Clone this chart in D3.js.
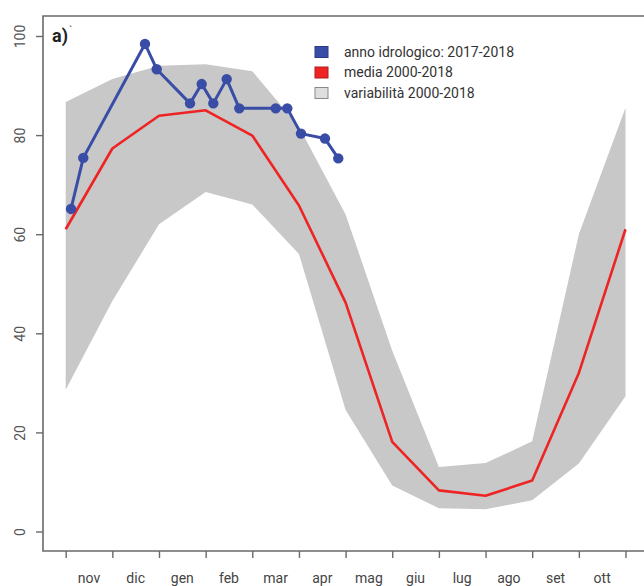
<!DOCTYPE html>
<html>
<head>
<meta charset="utf-8">
<script src="https://cdn.jsdelivr.net/npm/d3@7"></script>
<style>
  html, body { margin: 0; padding: 0; background: #fff; }
  svg { display: block; }
  text { font-family: Roboto, "Open Sans", sans-serif; }
</style>
</head>
<body>
<div id="chart"></div>
<script>
// ---- data ----
const months = ["nov", "dic", "gen", "feb", "mar", "apr", "mag", "giu", "lug", "ago", "set", "ott"];
// month-boundary positions (0 = 1 nov ... 12 = 1 nov next year)
const bandX = [0, 1, 2, 3, 4, 5, 6, 7, 8, 9, 10, 11, 12];
const mediaValues = [61, 77.3, 83.9, 85, 79.9, 65.8, 46.2, 18.1, 8.3, 7.2, 10.3, 32, 61];
const varMin = [28.6, 46.5, 62, 68.5, 66, 56, 24.5, 9.3, 4.7, 4.5, 6.3, 13.7, 27.3];
const varMax = [86.7, 91.3, 94, 94.3, 92.9, 81.7, 64, 36.5, 13, 13.8, 18.2, 60, 85.5];
// hydrological year 2017-2018 (position in months since 1 nov)
const annoX = [0.114, 0.377, 1.700, 1.951, 2.665, 2.915, 3.164, 3.451, 3.721, 4.502, 4.750, 5.044, 5.558, 5.843];
const annoValues = [65.1, 75.4, 98.4, 93.3, 86.4, 90.3, 86.4, 91.3, 85.4, 85.4, 85.4, 80.3, 79.3, 75.3];
const yTicks = [0, 20, 40, 60, 80, 100];
const legendLabels = ["anno idrologico: 2017-2018", "media 2000-2018", "variabilità 2000-2018"];

// ---- layout ----
const W = 644, H = 586;
const svg = d3.select("#chart").append("svg").attr("width", W).attr("height", H);

const x = d3.scaleLinear().domain([0, 12]).range([65.7, 625.5]);
const y = d3.scaleLinear().domain([0, 100]).range([531.5, 36]);

const frame = { left: 43, top: 16, bottom: 551, right: 660 };

// variability band
const band = bandX.map((d, i) => ({ x: d, lo: varMin[i], hi: varMax[i] }));
svg.append("path")
  .datum(band)
  .attr("fill", "#c8c8c8")
  .attr("d", d3.area().x(d => x(d.x)).y0(d => y(d.lo)).y1(d => y(d.hi)));

// media line
const media = bandX.map((d, i) => ({ x: d, v: mediaValues[i] }));
svg.append("path")
  .datum(media)
  .attr("fill", "none")
  .attr("stroke", "#ee2424")
  .attr("stroke-width", 2.6)
  .attr("stroke-linejoin", "round")
  .attr("d", d3.line().x(d => x(d.x)).y(d => y(d.v)));

// hydrological year line
const anno = annoX.map((d, i) => ({ x: d, v: annoValues[i] }));
svg.append("path")
  .datum(anno)
  .attr("fill", "none")
  .attr("stroke", "#3a4da6")
  .attr("stroke-width", 3)
  .attr("stroke-linejoin", "round")
  .attr("d", d3.line().x(d => x(d.x)).y(d => y(d.v)));
svg.append("g").selectAll("circle")
  .data(anno).join("circle")
  .attr("cx", d => x(d.x)).attr("cy", d => y(d.v))
  .attr("r", 5.2)
  .attr("fill", "#3a4da6");

// frame
svg.append("path")
  .attr("fill", "none")
  .attr("stroke", "#6a6a6a")
  .attr("stroke-width", 1.6)
  .attr("d", `M${frame.right},${frame.top}H${frame.left}V${frame.bottom}H${frame.right}`);

// y axis
const yAxis = d3.axisLeft(y).tickValues(yTicks).tickSize(7).tickPadding(0).tickFormat(d3.format("d"));
const gy = svg.append("g").attr("transform", `translate(${frame.left},0)`).call(yAxis);
gy.select(".domain").remove();
gy.selectAll(".tick line").attr("stroke", "#6a6a6a").attr("stroke-width", 1.4);
gy.selectAll(".tick text")
  .attr("fill", "#555")
  .attr("font-size", 14)
  .attr("text-anchor", "middle")
  .attr("transform", "rotate(-90)")
  .attr("x", 0).attr("y", 0)
  .attr("dy", "0.35em")
  .each(function () {
    // position rotated label at x = 20 (absolute)
    d3.select(this).attr("transform", `translate(${20 - frame.left},0) rotate(-90)`);
  });

// x axis: ticks at month boundaries, labels at mid-month
const xAxis = d3.axisBottom(x).tickValues(bandX).tickSize(7).tickFormat("");
const gx = svg.append("g").attr("transform", `translate(0,${frame.bottom})`).call(xAxis);
gx.select(".domain").remove();
gx.selectAll(".tick line").attr("stroke", "#6a6a6a").attr("stroke-width", 1.4);
svg.append("g").selectAll("text")
  .data(months).join("text")
  .attr("x", (d, i) => x(i + 0.5))
  .attr("y", 583)
  .attr("text-anchor", "middle")
  .attr("font-size", 14)
  .attr("fill", "#444")
  .text(d => d);

// panel label
svg.append("text").attr("x", 52).attr("y", 42)
  .attr("font-size", 18).attr("font-weight", "bold").attr("fill", "#222")
  .text("a)");
svg.append("text").attr("x", 69).attr("y", 34)
  .attr("font-size", 11).attr("fill", "#444")
  .text("`");

// legend
const legColors = [
  { fill: "#3a4da6", stroke: "#2c3b85" },
  { fill: "#ee2424", stroke: "#b51a1a" },
  { fill: "#dedede", stroke: "#8a8a8a" }
];
const leg = svg.append("g");
legendLabels.forEach((t, i) => {
  const cy = 52 + i * 20.5;
  leg.append("rect").attr("x", 315).attr("y", cy - 5.5).attr("width", 13).attr("height", 11)
    .attr("fill", legColors[i].fill).attr("stroke", legColors[i].stroke).attr("stroke-width", 1);
  leg.append("text").attr("x", 344).attr("y", cy).attr("dy", "0.35em")
    .attr("font-size", 14).attr("fill", "#333").text(t);
});
</script>
</body>
</html>
